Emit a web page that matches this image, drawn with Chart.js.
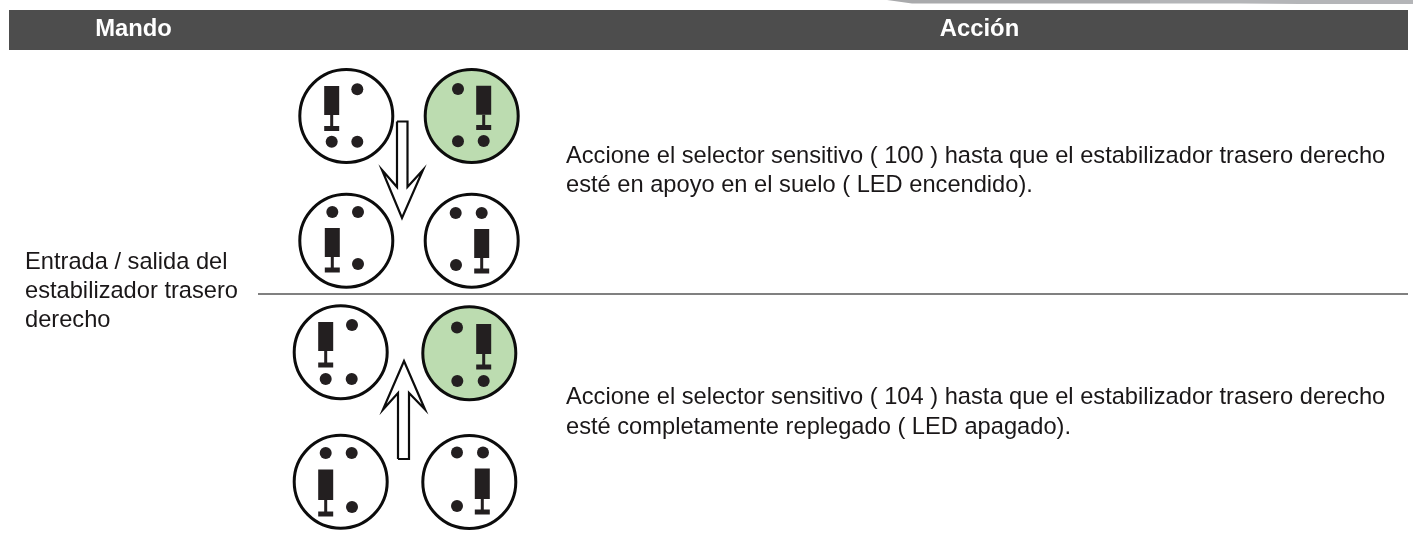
<!DOCTYPE html>
<html><head><meta charset="utf-8">
<style>html,body{margin:0;padding:0;background:#fff}#w{position:relative;width:1413px;height:534px}</style>
<script src="https://cdn.jsdelivr.net/npm/chart.js@4"></script></head>
<body><div id="w"><canvas id="c" width="1413" height="534"></canvas></div>
<script>
// Header band and separator (x, y in page-sized linear scale units)
const headerLabels = ["Mando", "Acción"];
const headerLabelX = [133.5, 979.5];
const headerBand = [{x:9,y:30},{x:1408,y:30}];
const dividerLine = [{x:258,y:294},{x:1408,y:294}];
const topStripDark = [{x:887,y:0},{x:912,y:3.4},{x:1150,y:3.4},{x:1150,y:0}];
const topStripLight = [{x:1150,y:3.4},{x:1240,y:3.4},{x:1300,y:4},{x:1413,y:4}];

// Panels: upper row set
const litCircles = [{x:471.7,y:116},{x:469.3,y:353.3}];
const plainCircles = [{x:346.3,y:116},{x:346.3,y:240.7},{x:471.7,y:240.7},{x:340.7,y:352.3},{x:340.7,y:481.7},{x:469.3,y:482}];
const dots = [
 {x:357.3,y:89.3},{x:331.7,y:141.7},{x:357.3,y:141.7},
 {x:458,y:89},{x:458,y:141.3},{x:483.7,y:141},
 {x:332.3,y:212},{x:358,y:212},{x:358,y:264},
 {x:455.7,y:213},{x:481.7,y:213},{x:456,y:265},
 {x:352,y:325},{x:325.7,y:379},{x:351.7,y:379},
 {x:457,y:327.5},{x:457.3,y:381},{x:483.7,y:381},
 {x:325.7,y:453},{x:351.7,y:453},{x:352,y:507},
 {x:457,y:452.5},{x:483,y:452.5},{x:457,y:506}
];
// Actuators: x, body top, body bottom, foot bottom
const actuatorX   = [331.7,483.7,332.3,481.7,325.7,483.7,325.7,482.3];
const actuatorTop = [86,   85.7, 228,  229,  322,  324,  469.5,468.5];
const actuatorMid = [115,  114.7,257,  258,  351,  354,  500,  499];
const actuatorEnd = [131,  130,  272.5,273.5,367.5,369.5,516.5,514.5];

const arrowDown = [{x:397,y:121.5},{x:407.5,y:121.5},{x:407.5,y:187},{x:423,y:170},{x:402,y:218},{x:382,y:170},{x:397,y:187},{x:397,y:121.5}];
const arrowUp = [{x:398,y:459},{x:409,y:459},{x:409,y:393},{x:425,y:409.5},{x:404,y:361},{x:383,y:409.5},{x:398,y:393},{x:398,y:459}];

// Text
const commandLines = ["Entrada / salida del","estabilizador trasero","derecho"];
const commandBaseline = [269,298,327];
const actionLines = ["Accione el selector sensitivo ( 100 ) hasta que el estabilizador trasero derecho","esté en apoyo en el suelo ( LED encendido).","Accione el selector sensitivo ( 104 ) hasta que el estabilizador trasero derecho","esté completamente replegado ( LED apagado)."];
const actionBaseline = [162.5,192,404,434];
const commandX = 25, actionX = 566;

const seg = (pts,color,w,extra={}) => ({type:'line',data:pts,borderColor:color,borderWidth:w,pointRadius:0,fill:false,tension:0,borderCapStyle:'butt',borderJoinStyle:'miter',clip:false,...extra});
const toTop = c => ({fill:{target:{value:0}},backgroundColor:c});
const ds = [];
ds.push(seg(topStripDark,'#a9aaac',0,toTop('#a9aaac')));
ds.push(seg(topStripLight,'#b4b5b8',0,toTop('#b4b5b8')));
ds.push(seg(headerBand,'#4d4d4d',40));
ds.push(seg(dividerLine,'#808080',2));
ds.push({type:'scatter',data:plainCircles,clip:false,pointRadius:46.5,pointBackgroundColor:'#fff',pointBorderColor:'#0c0c0c',pointBorderWidth:3});
ds.push({type:'scatter',data:litCircles,clip:false,pointRadius:46.5,pointBackgroundColor:'#bcdcb0',pointBorderColor:'#0c0c0c',pointBorderWidth:3});
actuatorX.forEach((x,i)=>{
  ds.push(seg([{x,y:actuatorTop[i]},{x,y:actuatorMid[i]}],'#231f20',15));
  ds.push(seg([{x,y:actuatorMid[i]},{x,y:actuatorEnd[i]-2}],'#231f20',3));
  ds.push(seg([{x:x-7.5,y:actuatorEnd[i]-2.5},{x:x+7.5,y:actuatorEnd[i]-2.5}],'#231f20',5));
});
ds.push({type:'scatter',data:dots,clip:false,pointRadius:6,pointBackgroundColor:'#231f20',pointBorderWidth:0});
ds.push(seg(arrowDown,'#0c0c0c',2.2));
ds.push(seg(arrowUp,'#0c0c0c',2.2));
ds.forEach((d,i)=>{d.order=-i;});

const textPlugin = {id:'txt',afterDatasetsDraw(ch){
  const {ctx,scales:{x:sx,y:sy}}=ch; ctx.save();
  ctx.textBaseline='alphabetic';
  ctx.font='bold 23.8px "Liberation Sans"';ctx.fillStyle='#fff';ctx.textAlign='center';
  headerLabels.forEach((t,i)=>ctx.fillText(t,sx.getPixelForValue(headerLabelX[i]),sy.getPixelForValue(36)));
  ctx.font='23.66px "Liberation Sans"';ctx.fillStyle='#1a1718';ctx.textAlign='left';
  commandLines.forEach((t,i)=>ctx.fillText(t,sx.getPixelForValue(commandX),sy.getPixelForValue(commandBaseline[i])));
  actionLines.forEach((t,i)=>ctx.fillText(t,sx.getPixelForValue(actionX),sy.getPixelForValue(actionBaseline[i])));
  ctx.restore();
}};
new Chart(document.getElementById('c'),{
  data:{datasets:ds},
  plugins:[textPlugin],
  options:{responsive:false,animation:false,events:[],layout:{padding:0,autoPadding:false},
    plugins:{legend:{display:false},tooltip:{enabled:false},title:{display:false}},
    scales:{x:{type:'linear',min:0,max:1413,display:false},y:{type:'linear',min:0,max:534,reverse:true,display:false}}
  }
});
</script></body></html>
